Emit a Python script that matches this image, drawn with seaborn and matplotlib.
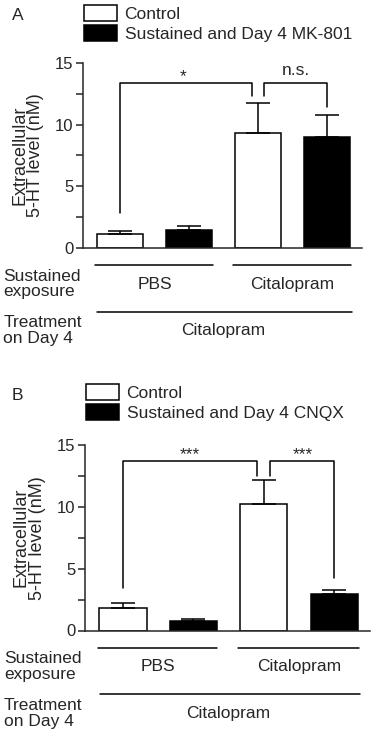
import pandas as pd
import matplotlib.pyplot as plt
import seaborn as sns

# ========== DATA ==========
groups = ["PBS / Control", "PBS / Drug", "Citalopram / Control", "Citalopram / Drug"]

mk801_labels = ["Control", "Sustained and Day 4 MK-801",
                "Control", "Sustained and Day 4 MK-801"]
mk801_mean = [1.1, 1.45, 9.35, 9.0]
mk801_sem = [0.3, 0.3, 2.4, 1.75]

cnqx_labels = ["Control", "Sustained and Day 4 CNQX",
               "Control", "Sustained and Day 4 CNQX"]
cnqx_mean = [1.8, 0.75, 10.2, 2.95]
cnqx_sem = [0.4, 0.2, 1.95, 0.3]

sustained_groups = ["PBS", "Citalopram"]
day4_treatment = "Citalopram"

# ========== STYLE ==========
sns.set_style("ticks")
plt.rcParams['font.family'] = ['Liberation Sans', 'DejaVu Sans']
LW = 1.1
FS = 12.5


def draw_panel(fig, rect, letter, labels, means, sems, brackets, letter_y, legend_y):
    ax = fig.add_axes(rect)
    df = pd.DataFrame({"group": groups, "condition": labels, "value": means})
    palette = {labels[0]: "white", labels[1]: "black"}
    sns.barplot(data=df, x="group", y="value", hue="condition", palette=palette,
                dodge=False, width=0.67, edgecolor="black", linewidth=LW,
                errorbar=None, ax=ax)
    zeros = [0] * len(means)
    ax.errorbar(range(len(means)), means, yerr=[zeros, sems], fmt="none",
                ecolor="black", elinewidth=LW, capsize=8.6, capthick=LW, zorder=3)

    ax.set_xlim(-0.54, 3.51)
    ax.set_ylim(0, 15)
    ax.set_yticks([0, 5, 10, 15])
    ax.set_yticks([2.5, 7.5, 12.5], minor=True)
    ax.tick_params(axis="y", which="both", length=5, width=LW, labelsize=12, pad=2)
    ax.tick_params(axis="x", length=0, labelbottom=False)
    ax.set_xlabel("")
    ax.set_ylabel("Extracellular\n5-HT level (nM)", fontsize=13, linespacing=0.95)
    ax.yaxis.set_label_coords(-0.138, 0.5)
    sns.despine(ax=ax)
    for s in ["left", "bottom"]:
        ax.spines[s].set_linewidth(LW)

    # significance brackets
    for (x0, y0, x1, y1, top, txt, tx, ty) in brackets:
        ax.plot([x0, x0, x1, x1], [y0, top, top, y1], color="black", lw=LW, clip_on=False)
        ax.text(tx, ty, txt, ha="center", va="baseline", fontsize=12.5)

    # group annotations under the axis
    tr = ax.get_xaxis_transform()
    for (a, b), name, c in zip([(-0.36, 1.34), (1.64, 3.35)], sustained_groups, [0.5, 2.5]):
        ax.plot([a, b], [-0.093, -0.093], color="black", lw=LW, transform=tr, clip_on=False)
        ax.text(c, -0.195, name, transform=tr, ha="center", va="center", fontsize=FS)
    ax.plot([-0.33, 3.37], [-0.345, -0.345], color="black", lw=LW, transform=tr, clip_on=False)
    ax.text(1.5, -0.447, day4_treatment, transform=tr, ha="center", va="center", fontsize=FS)
    ax.text(-0.285, -0.195, "Sustained\nexposure", transform=ax.transAxes,
            ha="left", va="center", fontsize=FS, linespacing=1.05)
    ax.text(-0.285, -0.447, "Treatment\non Day 4", transform=ax.transAxes,
            ha="left", va="center", fontsize=FS, linespacing=1.05)

    # legend
    handles, labs = ax.get_legend_handles_labels()
    ax.get_legend().remove()
    fig.legend(handles, labs, loc="upper left", bbox_to_anchor=(rect[0] + 0.002, legend_y),
               frameon=False, fontsize=FS, handlelength=1.9, handleheight=1.05,
               handletextpad=0.45, labelspacing=0.15, borderpad=0, borderaxespad=0)

    fig.text(0.032, letter_y, letter, fontsize=FS, ha="left", va="baseline")
    return ax


fig = plt.figure(figsize=(3.75, 7.36), dpi=100)

brackets_a = [
    (0, 2.85, 1.91, 12.3, 13.4, "*", 0.92, 13.55),
    (2.09, 12.3, 3.0, 11.45, 13.4, "n.s.", 2.55, 14.0),
]
brackets_b = [
    (0, 3.4, 1.91, 12.5, 13.7, "***", 0.95, 13.85),
    (2.09, 12.5, 3.0, 4.25, 13.7, "***", 2.55, 13.85),
]

draw_panel(fig, [83 / 375, 1 - 248 / 736, 279 / 375, 185 / 736], "A",
           mk801_labels, mk801_mean, mk801_sem, brackets_a,
           1 - 20 / 736, 1 - 5 / 736)
draw_panel(fig, [85 / 375, 1 - 630.5 / 736, 285 / 375, 185.5 / 736], "B",
           cnqx_labels, cnqx_mean, cnqx_sem, brackets_b,
           1 - 400 / 736, 1 - 384 / 736)

plt.savefig("out.png", dpi=100)
plt.close()
